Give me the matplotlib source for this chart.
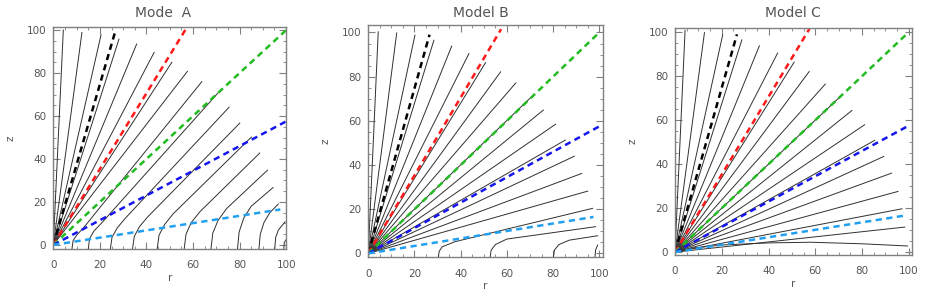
import matplotlib
matplotlib.use("Agg")
import matplotlib.pyplot as plt
from matplotlib.ticker import MultipleLocator

plt.rcParams['lines.scale_dashes'] = False

TITLES = ["Mode  A", "Model B", "Model C"]

# dashed reference lines (from origin to end point), same in all panels
DASH_COLORS = ["#000000", "#ff1a1a", "#22bb22", "#1515ee", "#22a0f0"]
DASH_END_R = [26.5, 57.5, 100.0, 100.0, 97.5]
DASH_END_Z = [99.0, 101.5, 100.0, 57.5, 16.5]

# ---- Model A ----
A_RAD_END_R = [4.3, 12.3, 20.5, 28.2, 35.8, 43.3, 50.9, 57.6]
A_RAD_END_Z = [100.0, 98.9, 97.8, 95.8, 93.5, 89.6, 85.0, 80.8]
A_CURVE_R = [
    [8.0, 8.5, 10.0, 13.0, 63.8],
    [15.0, 15.6, 17.5, 21.0, 70.7],
    [24.5, 25.2, 27.5, 31.0, 75.5],
    [34.0, 34.8, 37.0, 40.5, 80.1],
    [44.6, 45.4, 47.8, 51.5, 85.1],
    [56.2, 57.0, 59.3, 63.0, 88.7],
    [67.7, 68.5, 70.8, 74.5, 92.0],
    [79.1, 79.8, 81.8, 85.0, 94.4],
    [88.3, 88.9, 90.5, 93.0, 96.6],
    [95.1, 95.5, 96.7, 99.6],
    [99.0, 99.2, 99.9],
]
A_CURVE_Z = [
    [-2.0, 2.0, 4.5, 8.0, 76.0],
    [-2.0, 3.0, 6.5, 10.5, 70.7],
    [-2.0, 3.5, 8.0, 12.5, 64.1],
    [-2.0, 4.0, 8.5, 13.0, 56.7],
    [-2.0, 4.5, 9.5, 14.5, 50.2],
    [-2.0, 5.0, 10.5, 15.5, 42.8],
    [-2.0, 5.5, 11.5, 17.0, 34.8],
    [-2.0, 6.0, 12.5, 18.0, 26.7],
    [-2.0, 5.0, 10.5, 15.0, 19.0],
    [-2.0, 3.5, 7.0, 10.8],
    [-2.0, 1.2, 2.3],
]

# ---- Model B ----
B_RAD_END_R = [4.3, 12.3, 20.2, 28.4, 36.1, 43.6, 50.8, 57.3, 63.9, 70.3,
               75.8, 81.1, 85.3, 89.2, 92.4, 95.0]
B_RAD_END_Z = [100.3, 99.8, 98.8, 96.5, 93.8, 90.5, 86.4, 82.2, 77.2, 70.5,
               64.9, 58.5, 51.3, 44.0, 36.2, 28.2]
B_CURVE_R = [
    [30.3, 30.7, 32.0, 37.5, 97.1],
    [52.7, 53.2, 55.0, 60.0, 98.4],
    [80.1, 80.6, 82.5, 87.0, 99.3],
    [98.1, 98.4, 99.3],
]
B_CURVE_Z = [
    [-2.0, 1.0, 3.0, 5.3, 20.4],
    [-2.0, 1.5, 4.0, 6.5, 12.1],
    [-2.0, 1.5, 4.0, 6.0, 8.0],
    [-2.0, 1.5, 3.8],
]

# ---- Model C ----
C_RAD_END_R = [4.3, 12.6, 20.4, 28.6, 36.1, 43.9, 51.0, 57.4, 64.3, 70.6,
               75.7, 81.1, 85.4, 89.3, 92.6, 95.4, 97.1, 98.3]
C_RAD_END_Z = [100.8, 99.8, 98.8, 96.5, 93.8, 90.5, 86.4, 82.1, 76.4, 70.6,
               64.4, 57.9, 50.8, 43.5, 35.9, 27.6, 19.7, 11.4]
C_CURVE_R = [[0.0, 7.0, 21.0, 40.0, 58.0, 80.0, 99.5]]
C_CURVE_Z = [[0.0, 1.8, 3.3, 4.2, 4.5, 3.8, 2.8]]

PANELS = [
    (A_RAD_END_R, A_RAD_END_Z, A_CURVE_R, A_CURVE_Z),
    (B_RAD_END_R, B_RAD_END_Z, B_CURVE_R, B_CURVE_Z),
    (C_RAD_END_R, C_RAD_END_Z, C_CURVE_R, C_CURVE_Z),
]

# layout (figure fractions)
AX_RECTS = [
    [0.0567, 0.170, 0.2477, 0.739],
    [0.3918, 0.142, 0.2494, 0.774],
    [0.7181, 0.150, 0.2524, 0.756],
]
XLIMS = [(0, 100), (0, 101.5), (0, 101.5)]
YLIMS = [(-1.9, 101.3), (-1.8, 103.3), (-1.3, 101.8)]
TITLE_X = [163.3 / 940, 481 / 940, 793.3 / 940]

GRAY = "#808080"
TXT = "#555555"

fig = plt.figure(figsize=(9.4, 3.0), dpi=100)

for i, (rr, rz, cr, cz) in enumerate(PANELS):
    ax = fig.add_axes(AX_RECTS[i])
    for er, ez in zip(rr, rz):
        ax.plot([0, er], [0, ez], color="#303030", lw=0.7)
    for pr, pz in zip(cr, cz):
        ax.plot(pr, pz, color="#303030", lw=0.7)
    for c, er, ez in zip(DASH_COLORS, DASH_END_R, DASH_END_Z):
        ax.plot([0, er], [0, ez], color=c, lw=1.8, dashes=(4.5, 3.2))
    ax.set_xlim(*XLIMS[i])
    ax.set_ylim(*YLIMS[i])
    ax.xaxis.set_major_locator(MultipleLocator(20))
    ax.yaxis.set_major_locator(MultipleLocator(20))
    ax.xaxis.set_minor_locator(MultipleLocator(5))
    ax.yaxis.set_minor_locator(MultipleLocator(5))
    ax.tick_params(which="both", direction="in", top=True, right=True,
                   color=GRAY, labelcolor=TXT, labelsize=7.5)
    ax.tick_params(which="major", length=5, width=0.8)
    ax.tick_params(which="minor", length=2.5, width=0.6)
    ax.tick_params(axis="x", which="major", pad=8)
    ax.tick_params(axis="y", which="major", pad=5)
    for s in ax.spines.values():
        s.set_color(GRAY)
        s.set_linewidth(1.0)
    ax.set_xlabel("r", color=TXT, fontsize=7.5, labelpad=2)
    ax.set_ylabel("z", color=TXT, fontsize=7.5, labelpad=8)
    fig.text(TITLE_X[i], 1 - 16.7 / 300, TITLES[i], ha="center", va="baseline",
             color=TXT, fontsize=10)

fig.savefig("out.png", dpi=100, facecolor="white")
